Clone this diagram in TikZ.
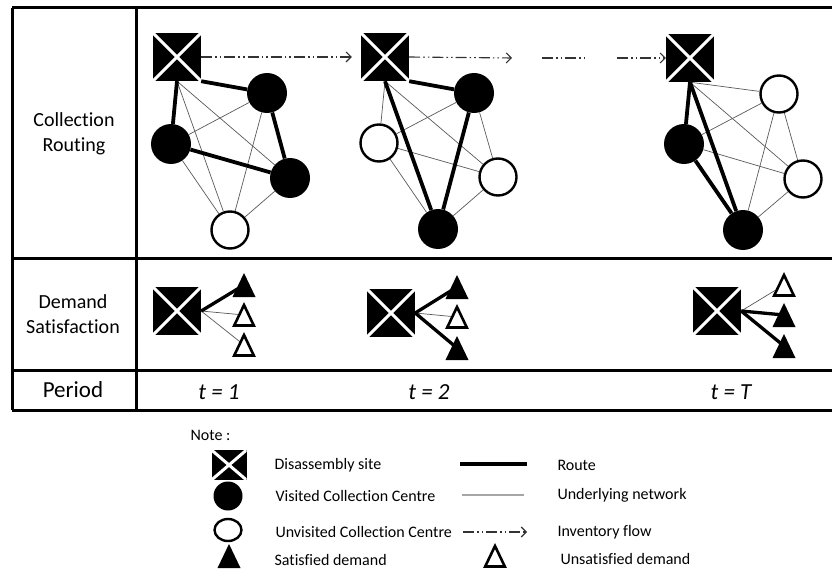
\documentclass[tikz,border=0pt]{standalone}
\usepackage{fontspec}
\setmainfont{Carlito}[Ligatures=NoCommon]
\usepackage{tikz}
\usetikzlibrary{arrows.meta}
\usetikzlibrary{shapes.geometric}
\usetikzlibrary{calc}

\tikzset{
  site/.style={rectangle, fill=black, inner sep=0pt, minimum width=48pt, minimum height=48pt,
    path picture={\draw[white,line width=3pt]
      (path picture bounding box.south west) -- (path picture bounding box.north east)
      (path picture bounding box.north west) -- (path picture bounding box.south east);}},
  visited/.style={circle, fill=black, inner sep=0pt, minimum size=40pt},
  unvisited/.style={circle, draw, fill=white, line width=2.4pt, inner sep=0pt, minimum size=37pt},
  unsat/.style={fill=white, draw=black, line width=2.6pt},
  route/.style={line width=3.8pt},
  net/.style={line width=0.7pt, black!65},
  flow/.style={line width=1.1pt, black!80,
    dash pattern=on 11pt off 3pt on 1.6pt off 3pt on 1.6pt off 3pt,
    -{Straight Barb[length=5pt,width=10pt]}},
  tableline/.style={line width=3pt},
  rowlabel/.style={font=\fontsize{20}{25}\selectfont, align=center},
  period/.style={font=\fontsize{23}{27}\selectfont\itshape},
  legend/.style={font=\fontsize{16}{19}\selectfont, anchor=west}
}

\begin{document}
\begin{tikzpicture}[x=1pt,y=-1pt]
  \useasboundingbox (0,0) rectangle (832,572);

  % table
  \foreach \y in {8,258,370,410}
    \draw[tableline] (12,\y) -- (832,\y);
  \draw[tableline] (12,8) -- (12,410);
  \draw[tableline] (136,8) -- (136,410);

  \node[rowlabel] (lcoll) at (74,134) {Collection\\Routing};
  \node[rowlabel] (ldem) at (73,314) {Demand\\Satisfaction};
  \node[rowlabel, font=\fontsize{23}{27}\selectfont] (lper) at (73,390) {Period};

  \node[period] (t1) at (219,392) {t = 1};
  \node[period] (t2) at (429,392) {t = 2};
  \node[period] (tT) at (731,392) {t = T};

  % collection routing
  \node[site] (s1) at (177,57) {};
  \node[site] (s2) at (385,57) {};
  \node[site] (s3) at (690,58) {};

  \foreach \n/\x/\y in {a1/267/93,b1/171/144,c1/290/178,
                        a2/474/93,d2/438/229,
                        b3/684/144,d3/743/230}
    \node[visited] (\n) at (\x,\y) {};
  \foreach \n/\x/\y in {d1/230/230,
                        b2/379/143,c2/498/177,
                        a3/779/94,c3/803/179}
    \node[unvisited] (\n) at (\x,\y) {};

  % underlying network
  \foreach \p/\q in {s1.south/c1,s1.south/d1,a1/b1,a1/d1,b1/d1,c1/d1,
                     s2.south/b2,s2.south/c2,a2/b2,a2/c2,b2/c2,b2/d2,c2/d2,
                     s3.south/a3,s3.south/c3,a3/b3,a3/c3,a3/d3,b3/c3,c3/d3}
    \draw[net] (\p) -- (\q);

  % routes
  \foreach \p/\q in {s1.south east/a1,s1.south/b1,a1/c1,b1/c1,
                     s2.south east/a2,s2.south/d2,a2/d2,
                     s3.south/b3,s3.south/d3,b3/d3}
    \draw[route] (\p) -- (\q);

  % inventory flow
  \coordinate (f1) at (512,58);
  \coordinate (f2) at (542,58);
  \coordinate (f3) at (587,58);
  \coordinate (f4) at (617,58);
  \draw[flow, shorten >=9pt] (s1.east) -- (s2.west);
  \draw[flow] (s2.east) -- (f1);
  \draw[flow, -] (f2) -- (f3);
  \draw[flow] (f4) -- (s3.west);

  % demand satisfaction
  \node[site] (q1) at (177,311) {};
  \node[site] (q2) at (391,313) {};
  \node[site] (q3) at (717,311) {};

  \foreach \n/\x/\y in {u1/244/285,v1/244/315,w1/244/345,
                        u2/457/287,v2/457/317,w2/457/348,
                        u3/784/285,v3/784/315,w3/784/346}
    \coordinate (\n) at (\x,\y);

  \foreach \p/\q in {q1/v1,q1/w1,q2/v2,q3/u3}
    \draw[net] (\p.east) -- (\q);
  \foreach \p/\q in {q1/u1,q2/u2,q2/w2,q3/v3,q3/w3}
    \draw[route, line width=3.3pt] (\p.east) -- (\q);

  % legend
  \node[legend] (note) at (187,435) {Note :};
  \node[site, minimum width=35pt, minimum height=30pt] (lsite) at (229,465) {};
  \node[visited, minimum size=29pt] (lvis) at (228,496) {};
  \node[ellipse, draw, line width=2.4pt, minimum width=27pt, minimum height=22pt, inner sep=0pt] (lunv) at (228,530) {};
  \coordinate (lsat) at (229,556);
  \node[legend] (tsite) at (271,465) {Disassembly site};
  \node[legend] (tvis) at (272,496) {Visited Collection Centre};
  \node[legend] (tunv) at (272,532) {Unvisited Collection Centre};
  \node[legend] (tsat) at (271,560) {Satisfied demand};

  \coordinate (r1) at (460,464);
  \coordinate (r2) at (527,464);
  \coordinate (n1) at (462,495);
  \coordinate (n2) at (524,495);
  \coordinate (i1) at (463,532);
  \coordinate (i2) at (527,532);
  \draw[route, line width=4.5pt] (r1) -- (r2);
  \draw[line width=1.3pt, black!35] (n1) -- (n2);
  \draw[flow] (i1) -- (i2);
  \coordinate (lunsat) at (495,556);
  \node[legend] (troute) at (554,465) {Route};
  \node[legend] (tnet) at (554,495) {Underlying network};
  \node[legend] (tinv) at (554,532) {Inventory flow};
  \node[legend] (tuns) at (557,559) {Unsatisfied demand};

  % triangles on top of the lines
  \foreach \n in {u1,u2,w2,v3,w3,lsat}
    \fill (\n) +(0,-12) -- +(11.5,12) -- +(-11.5,12) -- cycle;
  \foreach \n in {v1,w1,v2,u3,lunsat}
    \draw[unsat] (\n) +(0,-10) -- +(9.8,10.5) -- +(-9.8,10.5) -- cycle;
\end{tikzpicture}
\end{document}
